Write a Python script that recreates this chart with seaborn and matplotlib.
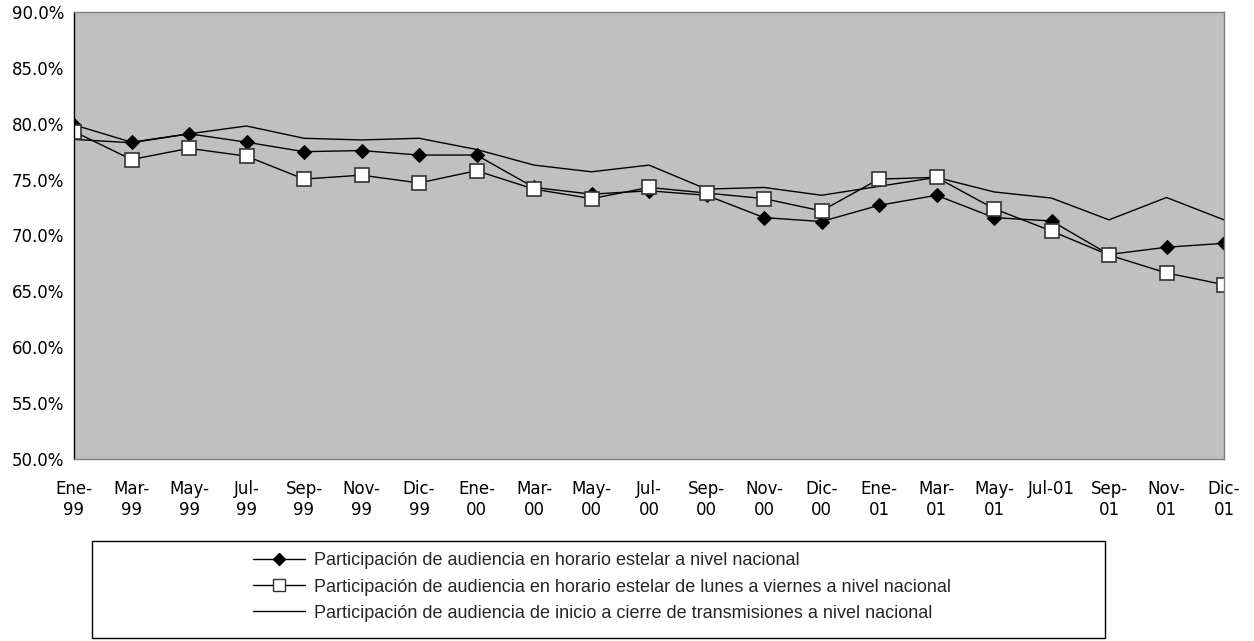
import numpy as np
import pandas as pd
import matplotlib
matplotlib.use("Agg")
import matplotlib.pyplot as plt
from matplotlib.lines import Line2D
from matplotlib.patches import Rectangle
from matplotlib.ticker import PercentFormatter
import seaborn as sns

# --- data ---
months = ["Ene-\n99", "Mar-\n99", "May-\n99", "Jul-\n99", "Sep-\n99", "Nov-\n99", "Dic-\n99",
          "Ene-\n00", "Mar-\n00", "May-\n00", "Jul-\n00", "Sep-\n00", "Nov-\n00", "Dic-\n00",
          "Ene-\n01", "Mar-\n01", "May-\n01", "Jul-01", "Sep-\n01", "Nov-\n01", "Dic-\n01"]

estelar = [79.9, 78.35, 79.1, 78.35, 77.5, 77.6, 77.2, 77.2, 74.3, 73.7, 74.0,
           73.6, 71.6, 71.25, 72.7, 73.6, 71.6, 71.3, 68.3, 68.95, 69.3]
lun_vie = [79.3, 76.8, 77.8, 77.1, 75.05, 75.4, 74.7, 75.8, 74.15, 73.3, 74.3,
           73.8, 73.3, 72.2, 75.05, 75.2, 72.4, 70.4, 68.25, 66.65, 65.6]
inicio_cierre = [78.6, 78.3, 79.1, 79.8, 78.7, 78.55, 78.7, 77.7, 76.3, 75.7, 76.3,
                 74.15, 74.3, 73.6, 74.4, 75.2, 73.9, 73.35, 71.4, 73.4, 71.4]

labels = ["Participación de audiencia en horario estelar a nivel nacional",
          "Participación de audiencia en horario estelar de lunes a viernes a nivel nacional",
          "Participación de audiencia de inicio a cierre de transmisiones a nivel nacional"]

df = pd.DataFrame({"mes": months, "estelar": estelar, "lun_vie": lun_vie, "total": inicio_cierre})

sns.set_style("white")
plt.rcParams["font.family"] = ["DejaVu Sans"]

W, H = 1254, 641
fig = plt.figure(figsize=(W / 100, H / 100), dpi=100)
ax = fig.add_axes([74 / W, 1 - 459 / H, 1150 / W, 447 / H])
ax.set_facecolor("#C0C0C0")

sns.lineplot(data=df, x="mes", y="total", ax=ax, color="black", lw=1, sort=False)
sns.lineplot(data=df, x="mes", y="estelar", ax=ax, color="black", lw=1, sort=False,
             marker="D", markersize=7, markerfacecolor="black", markeredgecolor="black")
sns.lineplot(data=df, x="mes", y="lun_vie", ax=ax, color="black", lw=1, sort=False,
             marker="s", markersize=10, markerfacecolor="white", markeredgecolor="#333333",
             markeredgewidth=1.2)

ax.set_ylim(50, 90)
ax.set_xlim(0, len(months) - 1)
ax.set_yticks(np.arange(50, 90.1, 5))
ax.yaxis.set_major_formatter(PercentFormatter(decimals=1))
ax.set_xlabel("")
ax.set_ylabel("")
ax.tick_params(axis="both", which="both", direction="out", length=5, width=1,
               colors="black", labelsize=12, pad=2)
ax.tick_params(axis="x", pad=10, length=5)
for lab in ax.get_xticklabels():
    lab.set_linespacing(1.25)

for side in ["top", "right", "bottom"]:
    ax.spines[side].set_color("#808080")
    ax.spines[side].set_linewidth(1)
ax.spines["left"].set_color("black")
ax.spines["left"].set_linewidth(1)

# legend box
fig.patches.append(Rectangle((92 / W, 1 - 638 / H), 1013 / W, 97 / H, transform=fig.transFigure,
                             fill=False, edgecolor="black", lw=1))
handles = [
    Line2D([], [], color="black", lw=1, marker="D", markersize=6, markerfacecolor="black"),
    Line2D([], [], color="black", lw=1, marker="s", markersize=8, markerfacecolor="white",
           markeredgecolor="#333333"),
    Line2D([], [], color="black", lw=1),
]
fig.legend(handles, labels, loc="center left", bbox_to_anchor=(244 / W, 1 - 587 / H),
           frameon=False, handlelength=2.9, handletextpad=0.45, labelspacing=0.5,
           prop={"family": "Liberation Sans", "size": 13}, borderpad=0)

fig.savefig("out.png", dpi=100)
